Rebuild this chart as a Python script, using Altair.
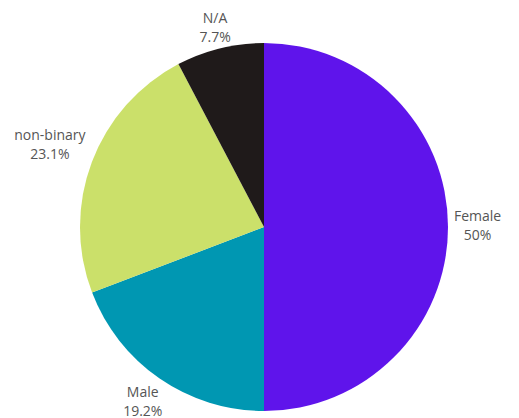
import altair as alt
import pandas as pd

categories = ["Female", "Male", "non-binary", "N/A"]
values = [50, 19.2, 23.1, 7.7]
pct_labels = ["50%", "19.2%", "23.1%", "7.7%"]
colors = ["#5F14EB", "#0097B2", "#CBE06A", "#1F1A1A"]

df = pd.DataFrame({
    "category": categories,
    "value": values,
    "pct": pct_labels,
    "order": list(range(len(categories))),
    "label": [f"{c}\n{p}" for c, p in zip(categories, pct_labels)],
})

cx, cy = 256, 219
R = 184

pie = alt.Chart(df).mark_arc(outerRadius=R, x=cx, y=cy).encode(
    theta=alt.Theta("value:Q", stack=True),
    order=alt.Order("order:Q"),
    color=alt.Color("category:N", scale=alt.Scale(domain=categories, range=colors), legend=None),
)

text = alt.Chart(df).transform_joinaggregate(
    total="sum(value)"
).transform_window(
    cum="sum(value)", sort=[alt.SortField("order")]
).transform_calculate(
    mid="(datum.cum - datum.value / 2) / datum.total * 2 * PI",
    tl="max(length(datum.category), length(datum.pct))",
).transform_calculate(
    r=(f"{R + 8} + abs(sin(datum.mid)) * datum.tl * 3.6"
       " + abs(cos(datum.mid)) * 14 - max(cos(datum.mid), 0) * 5")
).mark_text(
    x=cx, y=cy, lineBreak="\n", font="Open Sans", fontSize=14,
    color="#555555", lineHeight=19, align="center", baseline="middle", dy=-10,
).encode(
    theta=alt.Theta("mid:Q", scale=None),
    radius=alt.Radius("r:Q", scale=None),
    text="label:N",
)

chart = (pie + text).properties(
    width=503, height=410, padding=0, autosize=alt.AutoSizeParams(type="none")
).configure_view(stroke=None)

chart.save("out.html", embed_options={"renderer": "svg", "actions": False})
